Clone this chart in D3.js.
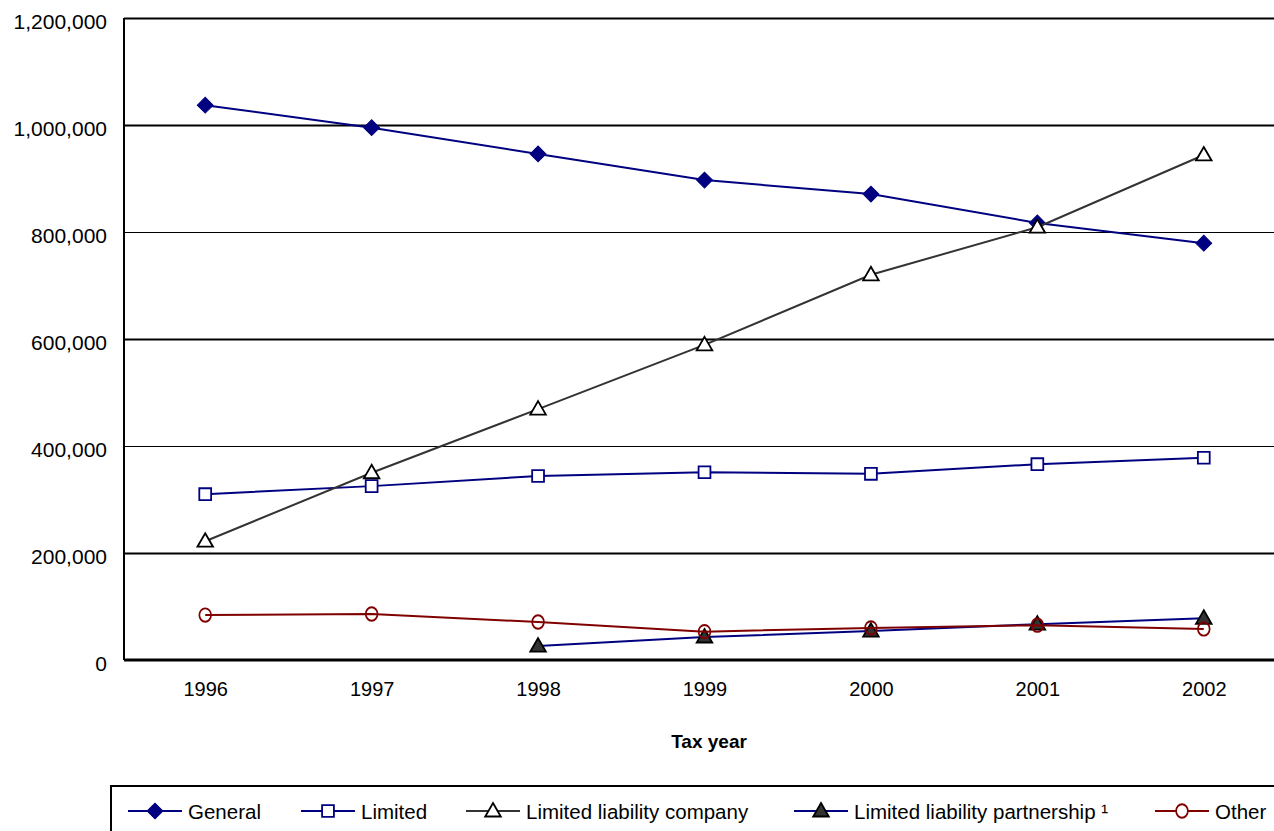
<!DOCTYPE html>
<html>
<head>
<meta charset="utf-8">
<script src="https://cdn.jsdelivr.net/npm/d3@7"></script>
<style>
  body { margin: 0; background: #fff; }
  text { font-family: "Liberation Sans", Arial, sans-serif; fill: #000; }
</style>
</head>
<body>
<div class="chart"></div>
<script>
// Data
var years = ["1996", "1997", "1998", "1999", "2000", "2001", "2002"];
var general = [1037000, 995000, 946000, 897000, 871000, 817000, 779000];
var limited = [310000, 325000, 344000, 351000, 348000, 366000, 378000];
var llc = [222000, 350000, 469000, 589000, 720000, 809000, 944000];
var llp = [null, null, 26000, 43000, 54000, 67000, 78000];
var other = [84000, 86000, 71000, 53000, 60000, 65000, 58000];
var yTicks = [0, 200000, 400000, 600000, 800000, 1000000, 1200000];

var svgWidth = 1274;
var svgHeight = 831;

var margin = { top: 18, right: 0, bottom: 171, left: 124 };
var width = svgWidth - margin.left - margin.right;
var height = svgHeight - margin.top - margin.bottom;

var svg = d3.select(".chart")
  .append("svg")
  .attr("width", svgWidth)
  .attr("height", svgHeight);

var chartGroup = svg.append("g")
  .attr("transform", `translate(${margin.left}, ${margin.top})`);

// Scales
var xScale = d3.scalePoint()
  .domain(years)
  .range([-2, 1163])
  .padding(0.5);

var yScale = d3.scaleLinear()
  .domain([0, 1200000])
  .range([height, 0]);

// Gridlines (alternate weights like the original)
var grid = chartGroup.append("g")
  .call(d3.axisLeft(yScale).tickValues(yTicks).tickSize(-width).tickFormat(""));
grid.select(".domain").remove();
grid.selectAll(".tick line")
  .attr("stroke", "#000")
  .attr("stroke-width", (d, i) => (i % 2 === 1 || i === 6 ? 2 : 1));

// Y axis labels
var yAxis = chartGroup.append("g")
  .call(d3.axisLeft(yScale).tickValues(yTicks).tickSize(0).tickPadding(17)
    .tickFormat(d3.format(",")));
yAxis.select(".domain").remove();
yAxis.selectAll("text")
  .style("font-size", "21px")
  .attr("dy", "0.5em");

// Y axis line
chartGroup.append("line")
  .attr("x1", 0).attr("x2", 0)
  .attr("y1", 0).attr("y2", height)
  .attr("stroke", "#000")
  .attr("stroke-width", 2);

// X axis
var xAxis = chartGroup.append("g")
  .attr("transform", `translate(0, ${height})`)
  .call(d3.axisBottom(xScale).tickSize(0).tickPadding(22));
xAxis.select(".domain").remove();
xAxis.selectAll("text").style("font-size", "20px");

chartGroup.append("line")
  .attr("x1", 0).attr("x2", width)
  .attr("y1", height).attr("y2", height)
  .attr("stroke", "#000")
  .attr("stroke-width", 3);

chartGroup.append("text")
  .attr("x", 585)
  .attr("y", height + 88)
  .style("text-anchor", "middle")
  .style("font-size", "19px")
  .style("font-weight", "bold")
  .text("Tax year");

// Series definitions
var series = [
  { name: "General", values: general, line: "#000080", shape: d3.symbolSquare, size: 125, rot: 45, fill: "#000080", stroke: "#000080" },
  { name: "Limited", values: limited, line: "#000080", shape: d3.symbolSquare, size: 140, rot: 0, fill: "#fff", stroke: "#000080" },
  { name: "Limited liability company", values: llc, line: "#333333", shape: d3.symbolTriangle, size: 105, rot: 0, fill: "#fff", stroke: "#000" },
  { name: "Limited liability partnership \u00b9", values: llp, line: "#000080", shape: d3.symbolTriangle, size: 105, rot: 0, fill: "#333333", stroke: "#000" },
  { name: "Other", values: other, line: "#800000", shape: d3.symbolCircle, size: 120, rot: 0, fill: "none", stroke: "#800000" }
];

function markerTransform(s, x, y) {
  var dy = s.shape === d3.symbolTriangle ? 1 : 0;
  var extra = s.shape === d3.symbolCircle ? " scale(0.95,1.08)" : "";
  if (s.rot) extra += ` rotate(${s.rot})`;
  return `translate(${x}, ${y + dy})${extra}`;
}

var lineGen = d3.line()
  .defined(d => d.v !== null)
  .x(d => xScale(d.year))
  .y(d => yScale(d.v));

series.forEach(function(s) {
  var pts = years.map((y, i) => ({ year: y, v: s.values[i] }));
  chartGroup.append("path")
    .datum(pts)
    .attr("fill", "none")
    .attr("stroke", s.line)
    .attr("stroke-width", 2)
    .attr("d", lineGen);

  var symbol = d3.symbol().type(s.shape).size(s.size);
  chartGroup.selectAll(null)
    .data(pts.filter(d => d.v !== null))
    .enter()
    .append("path")
    .attr("d", symbol)
    .attr("transform", d => markerTransform(s, xScale(d.year), yScale(d.v)))
    .attr("fill", s.fill)
    .attr("stroke", s.stroke)
    .attr("stroke-width", s.rot ? 1 : 1.8);
});

// Legend
var legend = svg.append("g");
legend.append("rect")
  .attr("x", 111)
  .attr("y", 786)
  .attr("width", 1200)
  .attr("height", 80)
  .attr("fill", "#fff")
  .attr("stroke", "#000")
  .attr("stroke-width", 2);

var legendX = [128, 301, 466, 794, 1155];
series.forEach(function(s, i) {
  var g = legend.append("g")
    .attr("transform", `translate(${legendX[i]}, 811)`);
  g.append("line")
    .attr("x1", 0).attr("x2", 54)
    .attr("y1", 0).attr("y2", 0)
    .attr("stroke", s.line)
    .attr("stroke-width", 2);
  g.append("path")
    .attr("d", d3.symbol().type(s.shape).size(s.size)())
    .attr("transform", markerTransform(s, 27, 0))
    .attr("fill", s.fill === "none" ? "#fff" : s.fill)
    .attr("stroke", s.stroke)
    .attr("stroke-width", s.rot ? 1 : 1.8);
  g.append("text")
    .attr("x", 60)
    .attr("y", 8)
    .style("font-size", "20.5px")
    .text(s.name);
});
</script>
</body>
</html>
